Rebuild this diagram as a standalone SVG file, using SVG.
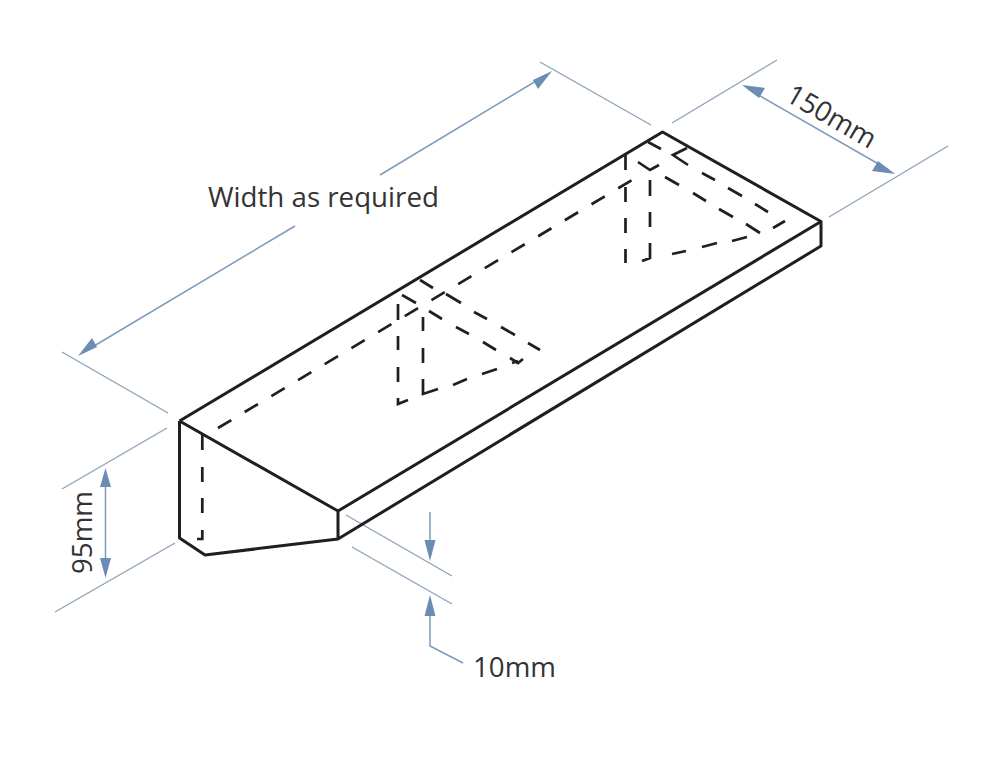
<svg xmlns="http://www.w3.org/2000/svg" width="1000" height="771" viewBox="0 0 1000 771">
<style>
.o{fill:none;stroke:#1f1f1f;stroke-width:3;stroke-linejoin:round}
.d{fill:none;stroke:#1f1f1f;stroke-width:2.7}
.b{fill:none;stroke:#8fa3ba;stroke-width:1.4}
.a{fill:none;stroke:#7e9abb;stroke-width:1.5}
.h{fill:#6c8cb4}
text{font-family:"Open Sans","Noto Sans",sans-serif;fill:#333;font-size:27.700px}
</style>
<rect width="1000" height="771" fill="#fff"/>
<g id="connectors">
<path class="b" d="M62 352L168 413M540 62L651 125M672 123L777 60M829 217L948 146M62 489L167 428M55 612L175 543M346 515L452 576M352 547L452 604"/>
<path class="a" d="M84 352L295 226M380 175L546 75M748 89L889 170M105.500 480V566M430 512V545M430 610V646L463 663"/>
<path class="h" d="M78 356L92 338L97 347ZM552 71L538 89L533 80ZM742 85L765 88L759 98ZM895 174L872 171L878 161ZM105.500 468L111 487H100ZM105.500 578L100 558H111ZM430 561L424.500 540H435.500ZM430 595L435.500 616H424.500Z"/>
</g>
<g id="shelf">
<path class="o" d="M179.500 421L662.500 132L821 221.500V246L338 539V511L821 221.500M179.500 421L338 511M179.500 421V538L205 555L338 539"/>
</g>
<g id="hidden-lines">
<path class="d" stroke-dasharray="15.500 15.600" d="M218 428L632 180"/>
<path class="d" d="M202.300 435V450M202.300 467V482M202.300 498V513M202.300 530V539H197"/>
<path class="d" d="M420 280L433 288M446 294L461 303M474 312L487 319M501 327L515 335M528 343L540 350"/>
<path class="d" d="M402 295L416 303M429 311L442 319M456 327L469 334M483 342L496 350M510 358L518 363L523 359"/>
<path class="d" d="M398 304V320M398 336V350M398 367V382M398 398V404L408 400"/>
<path class="d" d="M423 317V331M423 348V363M423 379V394L438 389M453 385L467 379M482 374L497 369M512 363L518 361"/>
<path class="d" d="M648 142L661 149M687 148L673 155L688 165M702 173L715 180M728 188L742 196M755 204L768 212M785 221L773 228"/>
<path class="d" d="M638 162L650 170L659 165M665 177L679 185M693 193L706 201M719 209L733 217M746 224L760 233"/>
<path class="d" d="M625.500 155V170M625.500 187V202M625.500 218V233M625.500 249V263"/>
<path class="d" d="M650 180V196M650 212V227M650 243V258L642 261M672 254L686 251M702 247L717 243M732 241L747 237"/>
</g>
<g id="labels">
<text x="208" y="207">Width as required</text>
<text transform="translate(784 100) rotate(30)">150mm</text>
<text transform="translate(92 574) rotate(-90)">95mm</text>
<text x="473" y="677">10mm</text>
</g>
</svg>
